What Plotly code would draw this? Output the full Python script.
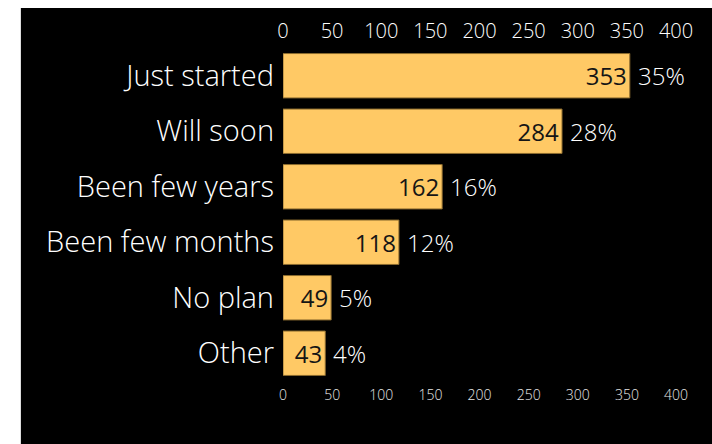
import plotly.graph_objects as go

categories = ["Just started", "Will soon", "Been few years", "Been few months", "No plan", "Other"]
counts = [353, 284, 162, 118, 49, 43]
percent_labels = ["35%", "28%", "16%", "12%", "5%", "4%"]
tick_values = [0, 50, 100, 150, 200, 250, 300, 350, 400]

FONT = "Open Sans"
BAR_FILL = "#FFC965"
BAR_EDGE = "#8A6A2E"

fig = go.Figure()

fig.add_trace(go.Bar(
    x=counts,
    y=categories,
    orientation="h",
    marker=dict(color=BAR_FILL, line=dict(color=BAR_EDGE, width=1)),
    text=[str(c) for c in counts],
    textposition="inside",
    insidetextanchor="end",
    textfont=dict(family=FONT, size=24, color="#151515", weight=400),
    cliponaxis=False,
    hoverinfo="skip",
    xaxis="x",
    yaxis="y",
))

# invisible companion trace so the lower axis is drawn too
fig.add_trace(go.Scatter(
    x=counts,
    y=categories,
    mode="markers",
    marker=dict(opacity=0),
    hoverinfo="skip",
    showlegend=False,
    xaxis="x2",
    yaxis="y",
))

for cat, val, pct in zip(categories, counts, percent_labels):
    fig.add_annotation(
        x=val, y=cat, xref="x", yref="y",
        text=pct, showarrow=False,
        xanchor="left", xshift=6,
        font=dict(family=FONT, size=24, color="white", weight=300),
    )

# dark panel behind the chart
fig.add_shape(
    type="rect", xref="paper", yref="paper",
    x0=-0.667, x1=1.2, y0=-0.5, y1=1.12,
    fillcolor="black", line=dict(width=0), layer="below",
)

fig.update_layout(
    width=712,
    height=444,
    margin=dict(l=283, r=36, t=48, b=63),
    paper_bgcolor="white",
    plot_bgcolor="black",
    showlegend=False,
    bargap=0.2,
    xaxis=dict(
        side="top",
        range=[0, 400],
        tickvals=tick_values,
        showgrid=False,
        zeroline=False,
        showline=False,
        ticks="",
        tickfont=dict(family=FONT, size=20, color="white", weight=300),
        ticklabelstandoff=5,
    ),
    xaxis2=dict(
        overlaying="x",
        side="bottom",
        range=[0, 400],
        tickvals=tick_values,
        showgrid=False,
        zeroline=False,
        showline=False,
        ticks="",
        tickfont=dict(family=FONT, size=14, color="#e6e6e6", weight=300),
        ticklabelstandoff=4,
    ),
    yaxis=dict(
        categoryorder="array",
        categoryarray=categories[::-1],
        showgrid=False,
        zeroline=False,
        showline=False,
        ticks="",
        tickfont=dict(family=FONT, size=29, color="white", weight=300),
        ticklabelstandoff=8,
    ),
)

fig.write_html("out.html")
